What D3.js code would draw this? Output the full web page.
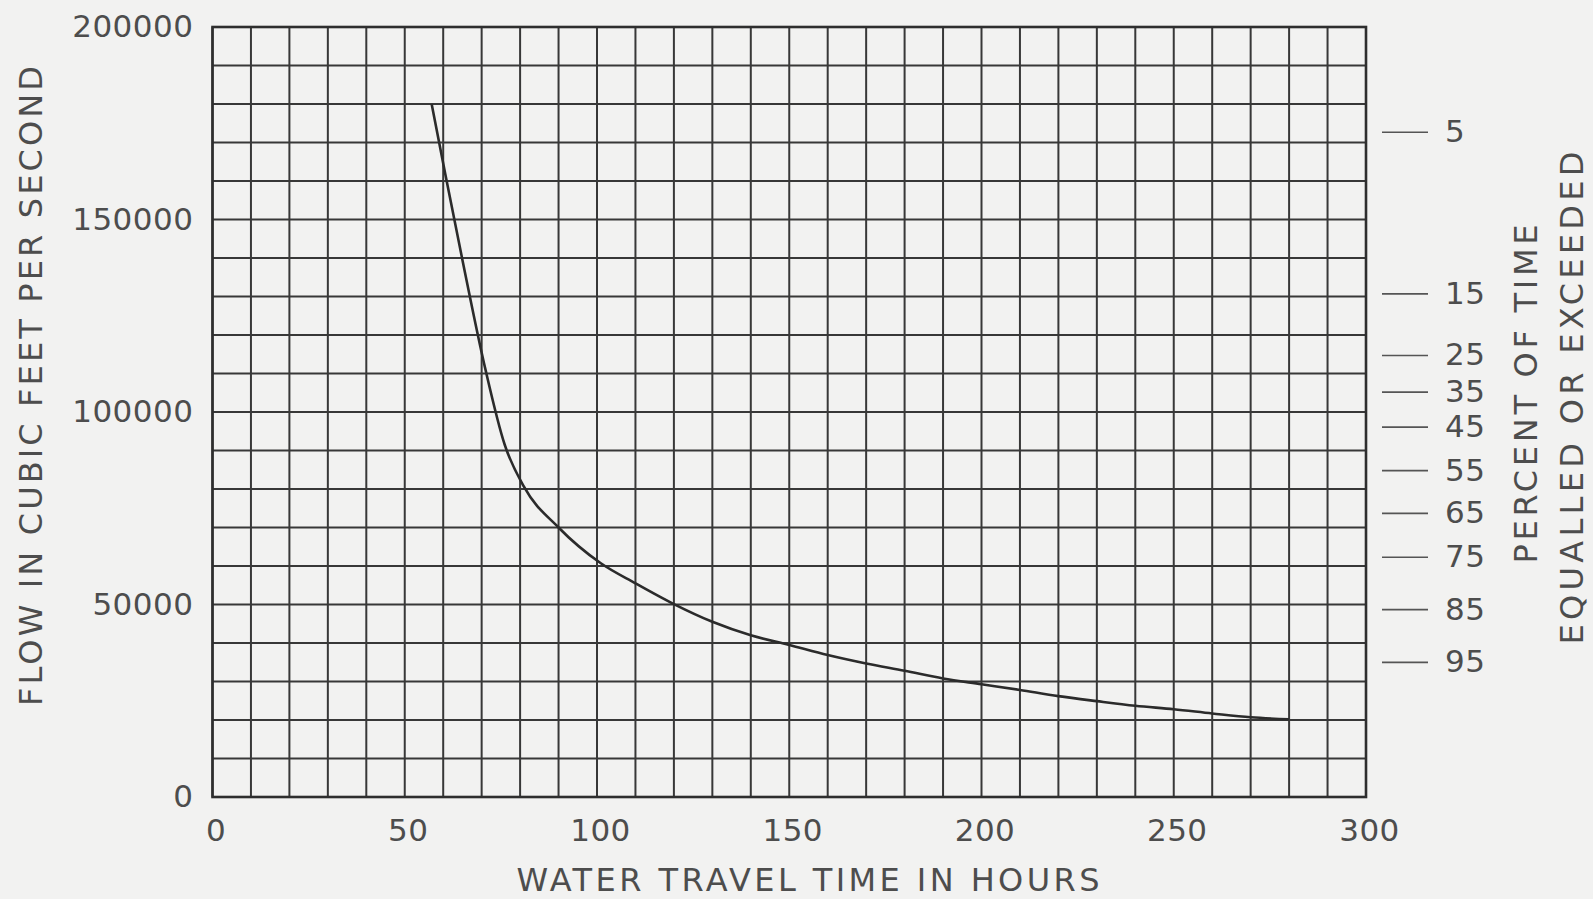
<!DOCTYPE html>
<html>
<head>
<meta charset="utf-8">
<script src="https://cdn.jsdelivr.net/npm/d3@7"></script>
<style>
  html, body { margin: 0; padding: 0; background: #f2f2f1; }
  svg { display: block; }
  .lbl text { font-family: "DejaVu Sans", sans-serif; font-size: 31px; fill: #4d4d4d; letter-spacing: 0.5px; }
  .title { font-family: "DejaVu Sans", sans-serif; font-size: 32px; fill: #4d4d4d; }
</style>
</head>
<body>
<svg id="chart" width="1593" height="899"></svg>
<script>
// travel time curve
var hours = [57, 60.5, 65, 71, 76, 81, 90, 101, 110, 120, 130, 140, 150, 160, 170, 180, 190, 200, 210, 220, 230, 240, 250, 260, 270, 280];
var flow = [180000, 162000, 139500, 111000, 91500, 80600, 70000, 60700, 55500, 50100, 45500, 42000, 39500, 36900, 34700, 32800, 30800, 29300, 27800, 26200, 24900, 23700, 22800, 21700, 20700, 20200];

// duration scale on the right (percent of time equalled or exceeded)
var pctLabels = ["5", "15", "25", "35", "45", "55", "65", "75", "85", "95"];
var pctFlow = [172800, 130800, 114800, 105300, 96200, 84900, 73800, 62400, 48800, 35100];

var xTicks = [0, 50, 100, 150, 200, 250, 300];
var yTicks = [0, 50000, 100000, 150000, 200000];

var svg = d3.select("#chart"),
  plotL = 212.5, plotR = 1366, plotT = 27, plotB = 797;

var x = d3.scaleLinear().domain([0, 300]).range([plotL, plotR]);
var y = d3.scaleLinear().domain([0, 200000]).range([plotB, plotT]);

var grid = svg.append("g")
  .attr("stroke", "#383838")
  .attr("stroke-width", 2);

grid.selectAll("line.v")
  .data(d3.range(0, 301, 10))
  .enter().append("line")
  .attr("class", "v")
  .attr("x1", function(d) { return x(d); })
  .attr("x2", function(d) { return x(d); })
  .attr("y1", y(0))
  .attr("y2", y(200000));

grid.selectAll("line.h")
  .data(d3.range(0, 200001, 10000))
  .enter().append("line")
  .attr("class", "h")
  .attr("y1", function(d) { return y(d); })
  .attr("y2", function(d) { return y(d); })
  .attr("x1", x(0))
  .attr("x2", x(300));

svg.append("rect")
  .attr("x", x(0)).attr("y", y(200000))
  .attr("width", x(300) - x(0)).attr("height", y(0) - y(200000))
  .attr("fill", "none").attr("stroke", "#2e2e2e").attr("stroke-width", 2.6);

var line = d3.line()
  .x(function(d, i) { return x(hours[i]); })
  .y(function(d) { return y(d); })
  .curve(d3.curveMonotoneX);

svg.append("path")
  .datum(flow)
  .attr("d", line)
  .attr("fill", "none")
  .attr("stroke", "#2b2b2b")
  .attr("stroke-width", 2.6);

// bottom labels
var xAxis = svg.append("g")
  .attr("class", "lbl")
  .attr("transform", "translate(3," + plotB + ")")
  .call(d3.axisBottom(x).tickValues(xTicks).tickSize(0).tickPadding(22));
xAxis.select(".domain").remove();
xAxis.selectAll("text").attr("font-family", null).attr("font-size", null).attr("fill", null);

// left labels
var yAxis = svg.append("g")
  .attr("class", "lbl")
  .attr("transform", "translate(" + plotL + ",0)")
  .call(d3.axisLeft(y).tickValues(yTicks).tickSize(0).tickPadding(19).tickFormat(d3.format("d")));
yAxis.select(".domain").remove();
yAxis.selectAll("text").attr("font-family", null).attr("font-size", null).attr("fill", null);

// right percent scale
var yPct = d3.scaleOrdinal().domain(pctFlow).range(pctLabels);
var rAxis = svg.append("g")
  .attr("class", "lbl")
  .attr("transform", "translate(1382,0)")
  .call(d3.axisRight(y).tickValues(pctFlow).tickSize(46).tickPadding(17)
    .tickFormat(function(d) { return yPct(d); }));
rAxis.select(".domain").remove();
rAxis.selectAll("line").attr("stroke", "#555").attr("stroke-width", 1.6);
rAxis.selectAll("text").attr("font-family", null).attr("font-size", null).attr("fill", null);

// titles
svg.append("text")
  .attr("class", "title")
  .attr("x", 808).attr("y", 891)
  .attr("text-anchor", "middle")
  .attr("textLength", 583).attr("lengthAdjust", "spacing")
  .text("WATER TRAVEL TIME IN HOURS");

svg.append("text")
  .attr("class", "title")
  .attr("transform", "translate(42,386) rotate(-90)")
  .attr("text-anchor", "middle")
  .attr("textLength", 640).attr("lengthAdjust", "spacing")
  .text("FLOW IN CUBIC FEET PER SECOND");

svg.append("text")
  .attr("class", "title")
  .attr("transform", "translate(1537,394) rotate(-90)")
  .attr("text-anchor", "middle")
  .attr("textLength", 339).attr("lengthAdjust", "spacing")
  .text("PERCENT OF TIME");

svg.append("text")
  .attr("class", "title")
  .attr("transform", "translate(1583,398) rotate(-90)")
  .attr("text-anchor", "middle")
  .attr("textLength", 493).attr("lengthAdjust", "spacing")
  .text("EQUALLED OR EXCEEDED");
</script>
</body>
</html>
